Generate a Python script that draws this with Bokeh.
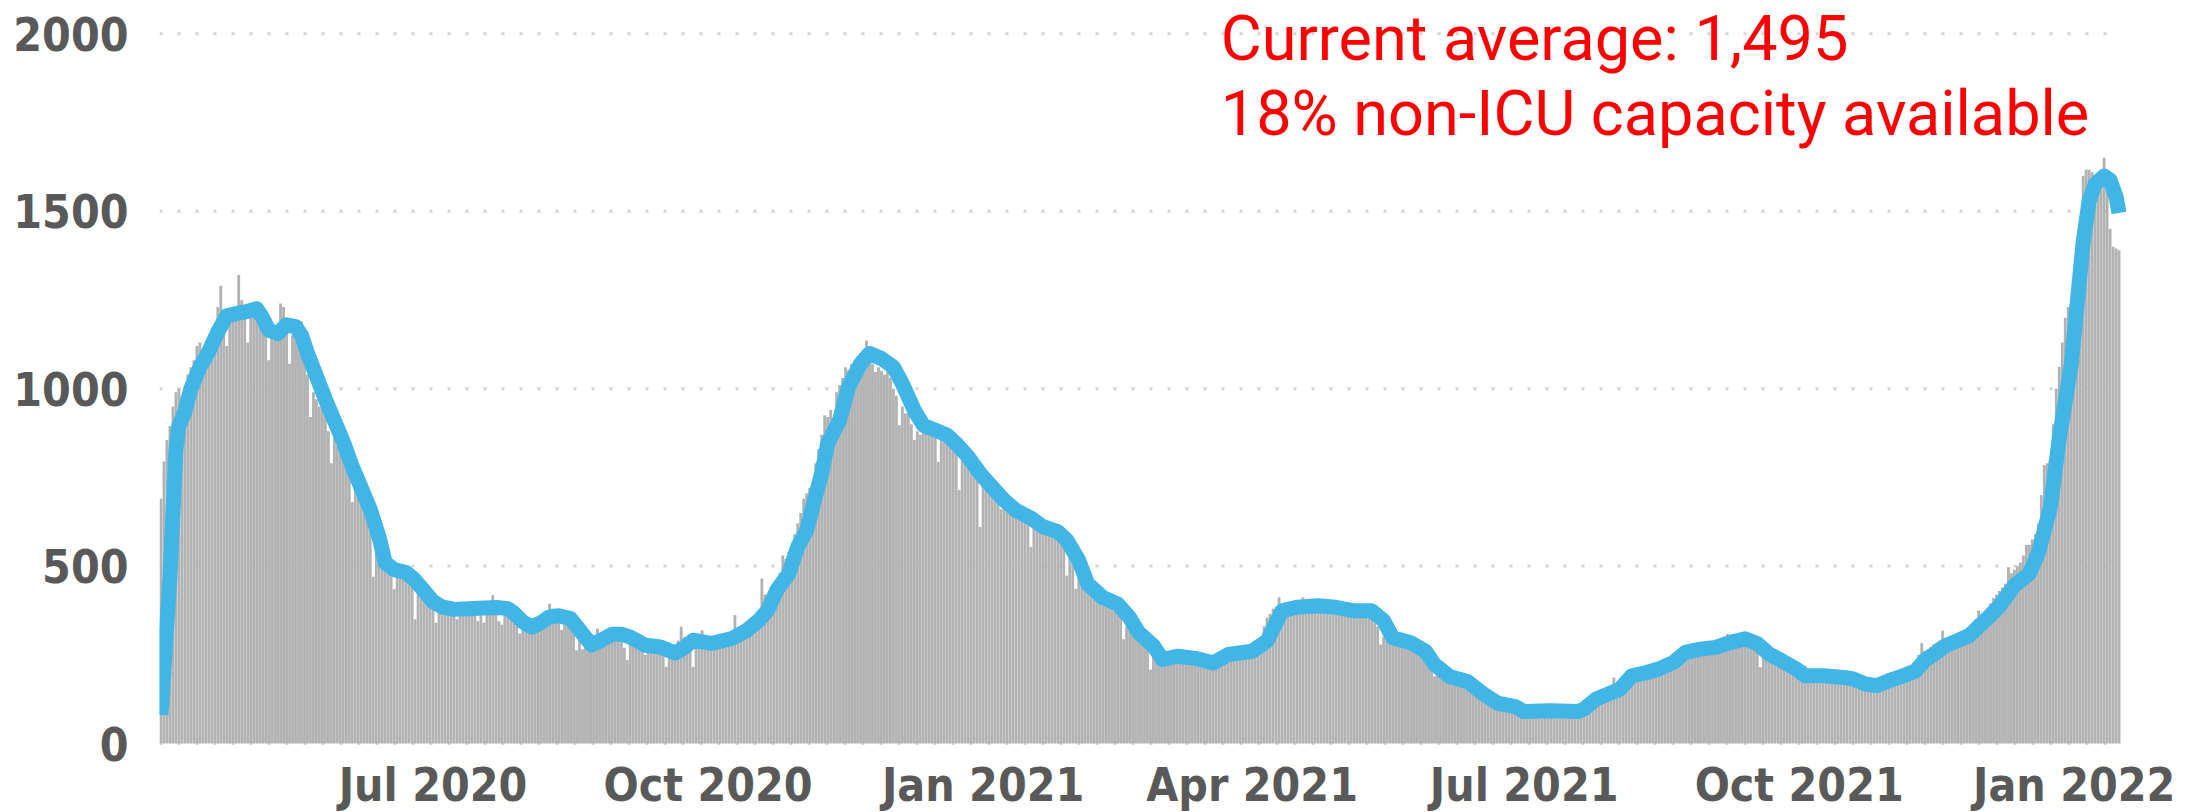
import pandas as pd
from bokeh.plotting import figure
from bokeh.models import Range1d, FixedTicker, Label, ColumnDataSource
from bokeh.embed import file_html
from bokeh.resources import INLINE

# ---------------- data ----------------
start_date = "2020-04-01"

daily_hospitalized = [
    690, 795, 855, 895, 950, 990, 1000,
    980, 960, 1040, 1060, 1080, 1120, 1130,
    1110, 1060, 1130, 1150, 1170, 1230, 1290,
    1200, 1120, 1200, 1210, 1220, 1320, 1250,
    1210, 1130, 1200, 1210, 1215, 1240, 1230,
    1160, 1080, 1150, 1160, 1170, 1240, 1230,
    1180, 1070, 1150, 1160, 1150, 1190, 1160,
    1040, 920, 990, 970, 950, 960, 940,
    880, 790, 860, 840, 820, 840, 800,
    760, 680, 720, 700, 680, 690, 650,
    600, 470, 560, 520, 500, 510, 490,
    485, 435, 480, 485, 480, 495, 490,
    455, 350, 430, 420, 410, 420, 400,
    380, 340, 370, 375, 370, 390, 385,
    370, 350, 370, 375, 375, 395, 385,
    375, 345, 370, 340, 375, 400, 418,
    375, 345, 335, 375, 365, 390, 370,
    340, 310, 330, 325, 320, 345, 340,
    345, 330, 350, 355, 394, 380, 370,
    355, 320, 345, 340, 330, 335, 263,
    295, 265, 280, 280, 285, 300, 324,
    300, 285, 300, 305, 310, 320, 310,
    300, 270, 235, 285, 280, 290, 275,
    270, 250, 270, 265, 265, 285, 275,
    265, 216, 255, 250, 255, 290, 329,
    300, 260, 285, 216, 290, 300, 319,
    285, 265, 285, 290, 290, 305, 300,
    300, 280, 300, 362, 310, 330, 335,
    335, 330, 350, 360, 375, 465, 420,
    420, 400, 440, 460, 480, 530, 520,
    540, 520, 590, 620, 650, 690, 705,
    720, 700, 790, 830, 870, 925, 920,
    940, 900, 990, 1010, 1030, 1060, 1052,
    1070, 1040, 1090, 1100, 1090, 1136, 1120,
    1070, 1047, 1060, 1050, 1040, 1060, 1030,
    1000, 980, 897, 950, 930, 940, 900,
    855, 880, 870, 890, 900, 890, 880,
    875, 793, 860, 850, 855, 870, 850,
    840, 714, 800, 790, 790, 800, 770,
    760, 610, 740, 730, 720, 740, 700,
    690, 660, 670, 660, 686, 650, 640,
    640, 630, 635, 630, 554, 620, 610,
    605, 600, 595, 600, 590, 585, 580,
    575, 560, 473, 530, 510, 436, 480,
    470, 450, 430, 420, 415, 410, 405,
    400, 395, 390, 385, 375, 370, 360,
    294, 330, 320, 310, 300, 290, 280,
    275, 265, 208, 250, 240, 230, 225,
    230, 235, 230, 245, 240, 235, 245,
    240, 235, 230, 240, 235, 225, 230,
    225, 220, 230, 235, 245, 250, 255,
    255, 250, 260, 255, 260, 265, 265,
    265, 270, 280, 285, 300, 330, 355,
    365, 380, 385, 412, 395, 390, 395,
    385, 380, 390, 385, 412, 390, 385,
    380, 385, 375, 390, 380, 375, 380,
    375, 370, 380, 375, 370, 365, 375,
    370, 375, 370, 365, 375, 370, 360,
    340, 330, 279, 300, 290, 285, 280,
    290, 285, 280, 290, 275, 270, 270,
    265, 255, 250, 240, 230, 220, 189,
    205, 200, 195, 185, 180, 175, 175,
    170, 165, 160, 155, 150, 145, 140,
    135, 130, 120, 115, 110, 105, 105,
    100, 98, 96, 95, 98, 94, 90,
    90, 86, 90, 88, 92, 88, 90,
    90, 86, 92, 88, 90, 94, 90,
    88, 86, 92, 90, 95, 100, 105,
    115, 120, 125, 130, 135, 140, 140,
    145, 150, 155, 186, 165, 175, 185,
    190, 190, 195, 200, 195, 205, 205,
    200, 205, 210, 215, 210, 225, 225,
    235, 240, 250, 255, 265, 271, 265,
    260, 258, 265, 262, 268, 275, 270,
    270, 268, 275, 272, 280, 295, 309,
    285, 280, 290, 292, 298, 300, 290,
    280, 265, 260, 215, 250, 240, 235,
    238, 230, 228, 222, 218, 215, 210,
    205, 200, 195, 190, 219, 195, 190,
    188, 185, 190, 195, 185, 190, 185,
    185, 182, 185, 180, 175, 182, 172,
    168, 165, 162, 165, 160, 158, 165,
    170, 175, 180, 185, 180, 192, 195,
    198, 200, 205, 210, 215, 225, 235,
    250, 283, 260, 265, 272, 280, 285,
    290, 318, 292, 295, 300, 298, 305,
    305, 310, 318, 330, 340, 350, 375,
    365, 370, 380, 395, 410, 420, 430,
    440, 450, 497, 480, 490, 500, 510,
    530, 560, 560, 575, 590, 620, 700,
    785, 790, 800, 900, 1000, 1062, 1130,
    1200, 1230, 1240, 1300, 1380, 1400, 1600,
    1617, 1617, 1610, 1600, 1600, 1600, 1651,
    1560, 1450, 1400, 1395, 1390,
]

# 7-day average line: (days after start_date, value)
avg_day = [
    0, 1, 2, 3, 4, 5, 6, 8, 10, 13, 16, 19, 22, 26, 29, 32, 34, 36, 39, 42,
    45, 47, 49, 52, 55, 58, 61, 64, 67, 70, 73, 75, 78, 82, 85, 88, 91, 94, 98, 103,
    108, 113, 116, 118, 121, 124, 127, 130, 133, 137, 140, 144, 147, 151, 154, 157, 162, 167, 172, 175,
    178, 184, 191, 196, 200, 203, 206, 210, 213, 216, 218, 221, 223, 227, 230, 234, 237, 241, 245, 248,
    252, 255, 259, 263, 266, 270, 274, 278, 282, 286, 291, 295, 300, 303, 307, 310, 315, 320, 324, 327,
    332, 335, 340, 346, 352, 357, 365, 370, 375, 380, 387, 393, 399, 405, 409, 412, 418, 423, 426, 431,
    437, 442, 447, 453, 456, 465, 474, 476, 480, 484, 488, 492, 497, 501, 506, 510, 515, 520, 525, 530,
    534, 538, 542, 547, 550, 556, 563, 566, 570, 574, 578, 583, 587, 590, 594, 597, 601, 605, 610, 615,
    620, 625, 628, 632, 635, 639, 641, 643, 645, 647, 650, 652, 654, 655,
]
avg_value = [
    80, 210, 340, 470, 650, 830, 895, 935, 1000, 1060, 1105, 1160, 1205, 1213, 1218, 1225, 1200, 1165, 1155, 1180,
    1175, 1150, 1100, 1035, 970, 910, 850, 780, 720, 660, 580, 510, 490, 482, 460, 430, 400, 385, 378, 380,
    382, 383, 380, 368, 343, 328, 340, 357, 360, 352, 320, 278, 290, 308, 308, 300, 277, 272, 255, 270,
    291, 282, 296, 319, 347, 376, 432, 479, 554, 601, 667, 761, 845, 911, 1005, 1070, 1099, 1085, 1061, 1014,
    939, 897, 883, 869, 845, 808, 761, 723, 686, 657, 635, 611, 597, 573, 516, 450, 412, 393, 355, 313,
    275, 237, 246, 240, 227, 251, 260, 289, 374, 384, 388, 384, 374, 374, 346, 298, 284, 260, 223, 189,
    175, 142, 114, 104, 90, 92, 90, 97, 125, 139, 153, 191, 200, 210, 229, 257, 266, 271, 285, 295,
    281, 252, 234, 210, 191, 191, 186, 182, 168, 163, 177, 191, 205, 234, 257, 276, 290, 305, 345, 387,
    445, 479, 537, 664, 860, 1068, 1241, 1414, 1530, 1576, 1599, 1588, 1541, 1495,
]

tick_dates = ["2020-07-01", "2020-10-01", "2021-01-01", "2021-04-01",
              "2021-07-01", "2021-10-01", "2022-01-01"]
tick_labels = ["Jul 2020", "Oct 2020", "Jan 2021", "Apr 2021",
               "Jul 2021", "Oct 2021", "Jan 2022"]
y_ticks = [0, 500, 1000, 1500, 2000]
annotation_lines = ["Current average: 1,495", "18% non-ICU capacity available"]

assert len(avg_day) == len(avg_value), (len(avg_day), len(avg_value))
assert len(daily_hospitalized) == 656, len(daily_hospitalized)

# ---------------- build ----------------
t0 = pd.Timestamp(start_date)
dates = pd.date_range(start_date, periods=len(daily_hospitalized), freq="D")
avg_dates = [t0 + pd.Timedelta(days=d) for d in avg_day]
DAY_MS = 86400000.0

bars = ColumnDataSource(data=dict(date=dates, value=daily_hospitalized))
avg = ColumnDataSource(data=dict(date=avg_dates, value=avg_value))

# data area: first bar's left edge .. last bar's right edge
data_start = dates[0] - pd.Timedelta(hours=12)
data_end = dates[-1] + pd.Timedelta(hours=12)
# frame extends to the right canvas edge so the last month label fits
x_end = data_start + pd.Timedelta(days=680.4)

AXIS_FONT = "DejaVu Sans Condensed, DejaVu Sans"
AXIS_SIZE = "46px"
AXIS_COLOR = "#595959"

p = figure(
    width=2193, height=812,
    x_axis_type="datetime",
    x_range=Range1d(data_start, x_end),
    y_range=Range1d(-194.4, 2093.8),
    output_backend="svg",
    toolbar_location=None,
    min_border_left=159, min_border_right=0,
    min_border_top=0, min_border_bottom=0,
)
p.outline_line_color = None
p.background_fill_color = "white"
p.border_fill_color = "white"

# dotted horizontal gridlines spanning the data area only
grid_src = ColumnDataSource(data=dict(
    x0=[data_start] * len(y_ticks), x1=[data_end] * len(y_ticks),
    y=y_ticks))
p.segment(x0="x0", x1="x1", y0="y", y1="y", source=grid_src,
          line_color="#D4D4D4", line_width=3, line_dash="3 15", level="underlay")

p.vbar(x="date", top="value", bottom=0, width=0.95 * DAY_MS, source=bars,
       fill_color="#B2B2B2", line_color=None)
p.line(x="date", y="value", source=avg, line_color="#41B6E6",
       line_width=15, line_join="round")

# y axis
p.yaxis.ticker = FixedTicker(ticks=y_ticks)
p.yaxis.axis_line_color = None
p.yaxis.major_tick_line_color = None
p.yaxis.minor_tick_line_color = None
p.yaxis.major_label_standoff = 25
p.yaxis.major_label_text_font = AXIS_FONT
p.yaxis.major_label_text_font_style = "bold"
p.yaxis.major_label_text_font_size = AXIS_SIZE
p.yaxis.major_label_text_color = AXIS_COLOR
p.ygrid.visible = False

# x axis: month labels placed under the zero line
p.xaxis.visible = False
p.xgrid.visible = False
for d, lab in zip(tick_dates, tick_labels):
    p.add_layout(Label(
        x=pd.Timestamp(d).value / 1e6, y=-115.5, x_units="data", y_units="data",
        text=lab, text_font=AXIS_FONT, text_font_style="bold",
        text_font_size=AXIS_SIZE, text_color=AXIS_COLOR,
        text_align="center", text_baseline="alphabetic"))

# annotation
label_x = (t0 + pd.Timedelta(days=354.5)).value / 1e6
for text, y in zip(annotation_lines, [1987.6, 1776.2]):
    p.add_layout(Label(
        x=label_x, y=y, x_units="data", y_units="data", text=text,
        text_font="Roboto", text_font_size="63px", text_color="#FF0000",
        text_align="left", text_baseline="alphabetic"))

open("out.html", "w").write(file_html(p, INLINE))
